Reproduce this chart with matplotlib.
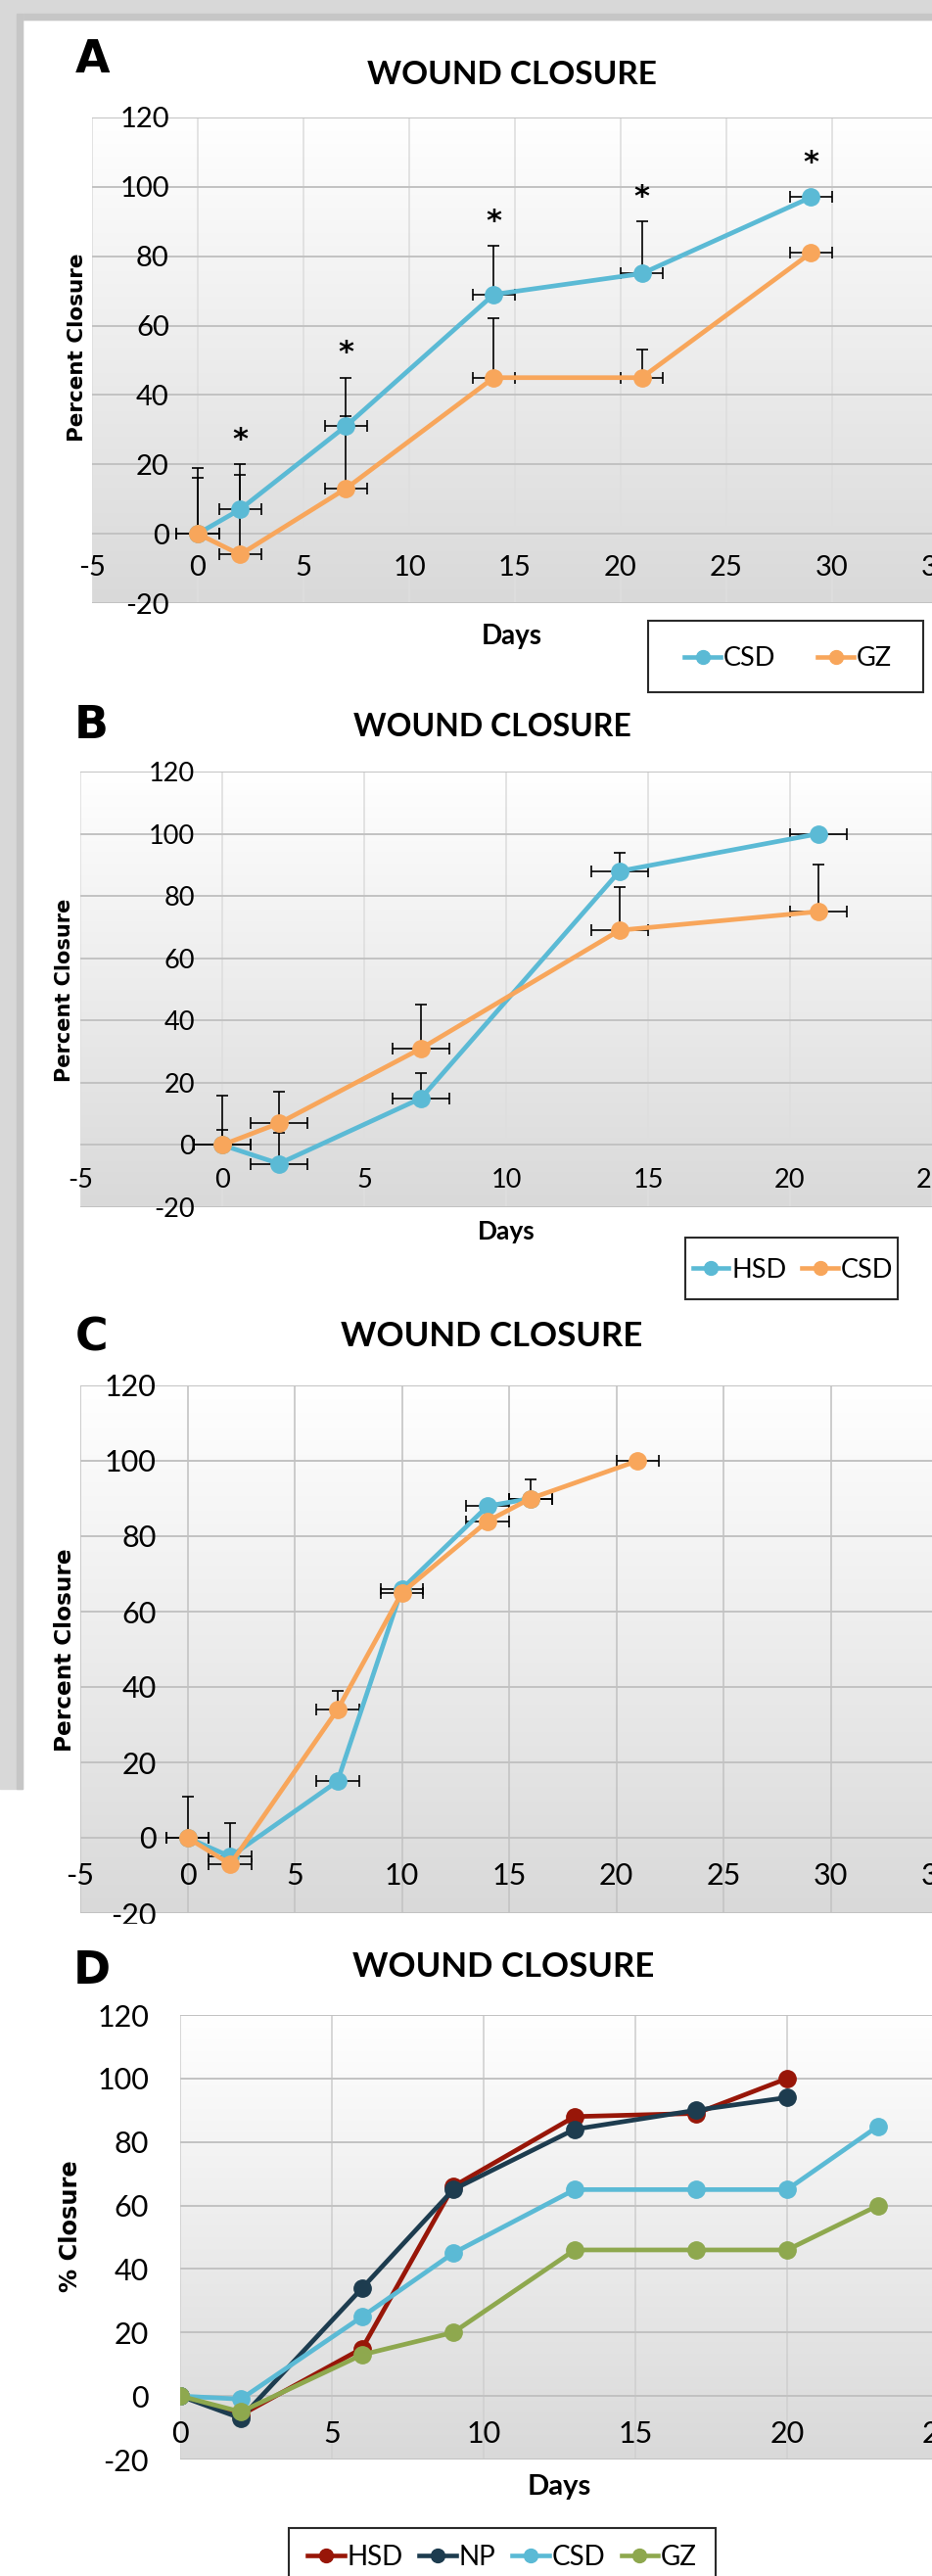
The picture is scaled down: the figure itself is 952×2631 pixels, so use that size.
import numpy as np
import matplotlib
matplotlib.use("Agg")
import matplotlib.pyplot as plt
from matplotlib.colors import LinearSegmentedColormap
from matplotlib.lines import Line2D
from matplotlib.patches import Rectangle

# ---- data ----
# A: CSD vs GZ
days_a = [0, 2, 7, 14, 21, 29]
csd_a = [0, 7, 31, 69, 75, 97]
gz_a = [0, -6, 13, 45, 45, 81]
csd_a_err = [19, 13, 14, 14, 15, 0]
gz_a_err = [16, 23, 21, 17, 8, 0]
star_days_a = [2, 7, 14, 21, 29]
star_y_a = [27, 52, 90, 97, 107]

# B: HSD vs CSD
days_b = [0, 2, 7, 14, 21]
hsd_b = [0, -6, 15, 88, 100]
csd_b = [0, 7, 31, 69, 75]
hsd_b_err = [5, 10, 8, 6, 0]
csd_b_err = [16, 10, 14, 14, 15]

# C: HSD vs CSD
days_c_hsd = [0, 2, 7, 10, 14, 16]
hsd_c = [0, -5, 15, 66, 88, 90]
days_c_csd = [0, 2, 7, 10, 14, 16, 21]
csd_c = [0, -7, 34, 65, 84, 90, 100]
csd_c_err = [11, 11, 5, 0, 0, 5, 0]

# D: four groups, no error bars
days_d = [0, 2, 6, 9, 13, 17, 20, 23]
hsd_d = [0, -6, 15, 66, 88, 89, 100]
np_d = [0, -7, 34, 65, 84, 90, 94]
csd_d = [0, -1, 25, 45, 65, 65, 65, 85]
gz_d = [0, -5, 13, 20, 46, 46, 46, 60]

DAY_ERR = 1

BLUE = '#5bbad5'
ORANGE = '#f8a65b'
RED = '#981608'
NAVY = '#1d3c4f'
GREEN = '#8ea84e'

W, H = 953, 2631
plt.rcParams['font.family'] = ['Lato', 'DejaVu Sans']
plt.rcParams['axes.unicode_minus'] = False

fig = plt.figure(figsize=(W / 100, H / 100), dpi=100)


def rect(l, t, r, b):
    return [l / W, 1 - b / H, (r - l) / W, (b - t) / H]


def fx(x):
    return x / W


def fy(y):
    return 1 - y / H


# grey window border behind the page
bg = fig.add_axes([0, 0, 1, 1], zorder=-10)
bg.set_xlim(0, W)
bg.set_ylim(H, 0)
bg.axis('off')
bg.add_patch(Rectangle((0, 0), W, 20, color='#d8d8d8'))
bg.add_patch(Rectangle((0, 14), W, 6, color='#c6c6c6'))
bg.add_patch(Rectangle((0, 0), 23, 1827, color='#d8d8d8'))
bg.add_patch(Rectangle((17, 14), 6, 1813, color='#c6c6c6'))

grad = LinearSegmentedColormap.from_list('g', ['#d9d9d9', '#ffffff'])


def panel(box, xlim, vgrid, fs, ypad, xpad):
    ax = fig.add_axes(rect(*box))
    ax.imshow(np.linspace(0, 1, 256).reshape(-1, 1), cmap=grad, origin='lower',
              extent=(xlim[0], xlim[1], -20, 120), aspect='auto', zorder=0.1)
    ax.set_xlim(xlim)
    ax.set_ylim(-20, 120)
    ax.set_xticks(np.arange(xlim[0], xlim[1] + 1, 5))
    ax.set_yticks(np.arange(-20, 121, 20))
    ax.set_axisbelow(True)
    ax.grid(axis='y', color='#c2c2c2', lw=1.4)
    ax.grid(axis='x', color=vgrid, lw=1.2)
    ax.spines['left'].set_position(('data', 0))
    ax.spines['bottom'].set_position(('data', 0))
    for s in ax.spines.values():
        s.set_visible(False)
    ax.tick_params(length=0, labelsize=fs)
    ax.tick_params(axis='y', pad=ypad)
    ax.tick_params(axis='x', pad=xpad)
    return ax


def series(ax, x, y, color, z, up=None, xerr=True):
    x = np.array(x, float)
    y = np.array(y, float)
    ax.plot(x, y, color=color, lw=3.4, marker='o', ms=12.5, zorder=z)
    if xerr:
        ax.errorbar(x, y, xerr=DAY_ERR, fmt='none', ecolor='black',
                    elinewidth=1.2, capsize=4, capthick=1.2, zorder=2)
    if up is not None:
        up = np.array(up, float)
        m = up > 0
        eb = ax.errorbar(x[m], y[m], yerr=[np.zeros(m.sum()), up[m]], fmt='none',
                         ecolor='black', elinewidth=1.2, capsize=4, capthick=1.2, zorder=2)
        eb[1][0].set_visible(False)


def legend(box, center, labels, colors, fs, colsp):
    l, t, r, b = box
    fig.add_artist(Rectangle((fx(l), fy(b)), (r - l) / W, (b - t) / H,
                             transform=fig.transFigure, fill=False,
                             ec='#2a2a2a', lw=1.5, zorder=8))
    handles = [Line2D([], [], color=c, lw=3.3, marker='o', ms=10) for c in colors]
    lg = fig.legend(handles, labels, loc='center',
                    bbox_to_anchor=(fx(center[0]), fy(center[1])),
                    ncol=len(labels), frameon=False, fontsize=fs,
                    handlelength=1.35, handletextpad=0.1, columnspacing=colsp,
                    borderpad=0, borderaxespad=0)
    lg.set_zorder(9)


def heading(letter, lx, ly, title, tx, ty, tfs, z=3):
    fig.text(fx(lx), fy(ly), letter, ha='center', va='baseline', fontsize=33,
             fontweight='bold', family='DejaVu Sans', zorder=z)
    fig.text(fx(tx), fy(ty), title, ha='center', va='baseline', fontsize=tfs,
             fontweight='bold', zorder=z)


def ylab(text, x, y, fs, z=3):
    fig.text(fx(x), fy(y), text, rotation=90, ha='center', va='center',
             fontsize=fs, fontweight='bold', family='DejaVu Sans', zorder=z)


# ---- A ----
axa = panel((94, 120, 958, 616), (-5, 35), '#dedede', 21, 21, 16)
series(axa, days_a, csd_a, BLUE, 3, csd_a_err)
series(axa, days_a, gz_a, ORANGE, 3.1, gz_a_err)
for d, s in zip(star_days_a, star_y_a):
    axa.text(d, s, '*', ha='center', va='center', fontsize=22,
             fontweight='bold', family='DejaVu Sans', zorder=4)
heading('A', 95, 74, 'WOUND CLOSURE', 523, 86, 24)
ylab('Percent Closure', 79.5, 355, 15.5)
fig.text(fx(523), fy(658), 'Days', ha='center', va='baseline', fontsize=20, fontweight='bold')
legend((662, 634, 943, 707), (805, 673), ['CSD', 'GZ'], [BLUE, ORANGE], 19.5, 1.6)

# ---- B ----
axb = panel((82, 788, 952, 1233), (-5, 25), '#dedede', 19.5, 20, 17)
series(axb, days_b, hsd_b, BLUE, 3, hsd_b_err)
series(axb, days_b, csd_b, ORANGE, 3.1, csd_b_err)
heading('B', 93, 754, 'WOUND CLOSURE', 503, 752, 23)
ylab('Percent Closure', 66.5, 1011, 15)
fig.text(fx(517), fy(1266), 'Days', ha='center', va='baseline', fontsize=19, fontweight='bold')
legend((700, 1264, 917, 1327), (810, 1297), ['HSD', 'CSD'], [BLUE, ORANGE], 19.5, 0.6)

# ---- C ----
axc = panel((82, 1415, 958, 1954), (-5, 35), '#c4c4c4', 22, 23, 18)
series(axc, days_c_hsd, hsd_c, BLUE, 3)
series(axc, days_c_csd, csd_c, ORANGE, 3.1, csd_c_err)
heading('C', 94, 1379, 'WOUND CLOSURE', 502, 1375, 25)
ylab('Percent Closure', 66.5, 1685, 16.7)

# page edge hiding the bottom of C
fig.add_artist(Rectangle((0, fy(2050)), 1, (2050 - 1965) / H, transform=fig.transFigure,
                         color='white', zorder=5))

# ---- D ----
axd = panel((184, 2058, 959, 2512), (0, 25), '#d0d0d0', 22, 23, 18)
axd.set_zorder(6)
for i, (vals, col) in enumerate([(hsd_d, RED), (np_d, NAVY), (csd_d, BLUE), (gz_d, GREEN)]):
    series(axd, days_d[:len(vals)], vals, col, 3 + i * 0.1, xerr=False)
heading('D', 94, 2026, 'WOUND CLOSURE', 514, 2019, 25, z=7)
ylab('% Closure', 72.5, 2274, 17.4, z=7)
fig.text(fx(571), fy(2548), 'Days', ha='center', va='baseline', fontsize=21,
         fontweight='bold', zorder=7)
legend((295, 2582, 731, 2660), (513, 2612), ['HSD', 'NP', 'CSD', 'GZ'],
       [RED, NAVY, BLUE, GREEN], 20, 0.6)

fig.savefig('out.png', dpi=100)
